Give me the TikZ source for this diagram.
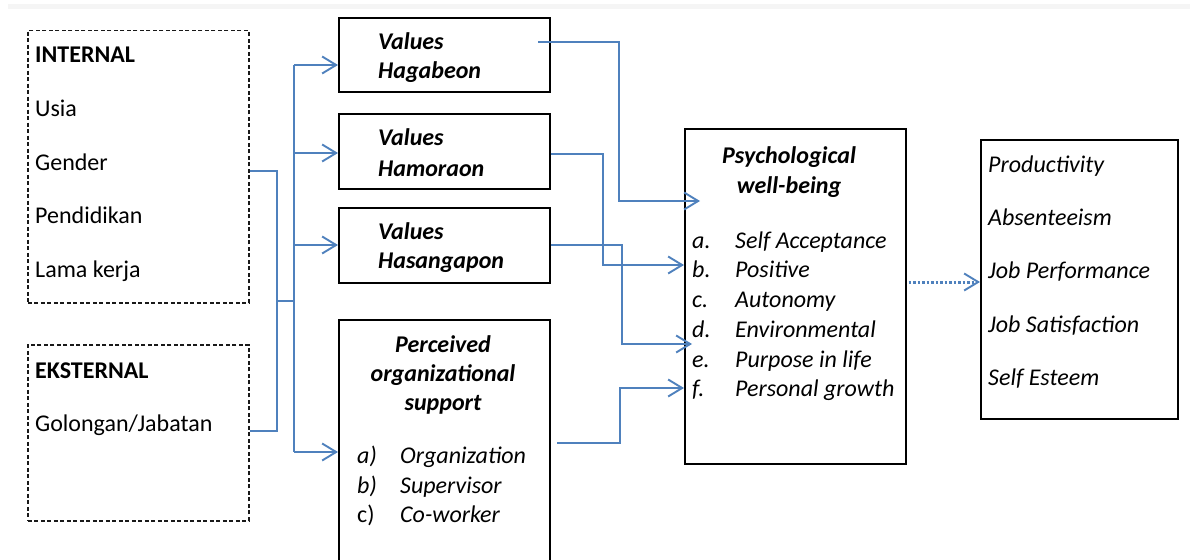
\documentclass[tikz,border=0pt]{standalone}
\usepackage{fontspec}
\setmainfont{Carlito}
\usetikzlibrary{arrows.meta}
\definecolor{lnblue}{HTML}{4F81BD}
\begin{document}
\begin{tikzpicture}[x=1pt,y=-1pt,
  box/.style={draw=black,line width=1.7pt,inner sep=0pt},
  dbox/.style={draw=black!90,line width=1.5pt,dash pattern=on 4pt off 2.5pt,inner sep=0pt},
  txt/.style={anchor=base west,inner sep=0pt,font=\fontsize{24}{29}\selectfont},
  btxt/.style={txt,font=\fontsize{24}{29}\selectfont\bfseries},
  ittxt/.style={txt,font=\fontsize{24}{29}\selectfont\itshape},
  bitxt/.style={txt,font=\fontsize{24}{29}\selectfont\bfseries\itshape},
  ctxt/.style={anchor=base,inner sep=0pt,font=\fontsize{24}{29}\selectfont\bfseries\itshape},
  conn/.style={draw=lnblue,line width=2.1pt},
  arr/.style={conn,-{Straight Barb[length=14pt,width=17pt,line width=1.9pt]}}]
\useasboundingbox (0,0) rectangle (1190,559);
\clip (0,0) rectangle (1190,559);
\fill[black!4] (8,4) rectangle (1190,9);

% left dashed boxes
\node[dbox,anchor=north west,minimum width=221pt,minimum height=272pt] (int) at (27,30) {};
\node[dbox,anchor=north west,minimum width=221pt,minimum height=176pt] (ext) at (27,344) {};
\node[btxt] (intl) at (35,63) {INTERNAL};
\node[txt] (usia) at (35,117) {Usia};
\node[txt] (gen) at (35,170) {Gender};
\node[txt] (pend) at (35,223) {Pendidikan};
\node[txt] (lama) at (35,277) {Lama kerja};
\node[btxt] (extl) at (35,378) {EKSTERNAL};
\node[txt] (gol) at (35,431) {Golongan/Jabatan};

% values boxes
\node[box,anchor=north west,minimum width=211pt,minimum height=74pt] (hag) at (338,17) {};
\node[box,anchor=north west,minimum width=211pt,minimum height=75pt] (ham) at (338,113) {};
\node[box,anchor=north west,minimum width=211pt,minimum height=75pt] (has) at (338,207) {};
\node[bitxt] (v1) at (378,50) {Values};
\node[bitxt] (v1b) at (378,79) {Hagabeon};
\node[bitxt] (v2) at (378,146) {Values};
\node[bitxt] (v2b) at (378,176) {Hamoraon};
\node[bitxt] (v3) at (378,239) {Values};
\node[bitxt] (v3b) at (378,268) {Hasangapon};

% perceived organizational support
\node[box,anchor=north west,minimum width=211pt,minimum height=270pt] (pos) at (338,319) {};
\node[ctxt] (p1) at (443,352) {Perceived};
\node[ctxt] (p2) at (443,381) {organizational};
\node[ctxt] (p3) at (443,410) {support};
\node[ittxt] (pa) at (357,463) {a)};
\node[ittxt] (pat) at (400,463) {Organization};
\node[ittxt] (pb) at (357,493) {b)};
\node[ittxt] (pbt) at (400,493) {Supervisor};
\node[txt] (pc) at (357,522) {c)};
\node[ittxt] (pct) at (400,522) {Co-worker};

% psychological well-being
\node[box,anchor=north west,minimum width=221pt,minimum height=335pt] (pwb) at (684,128) {};
\node[ctxt] (w1) at (789,163) {Psychological};
\node[ctxt] (w2) at (789,193) {well-being};
\node[ittxt] (wa) at (692,248) {a.};
\node[ittxt] (wat) at (735,248) {Self Acceptance};
\node[ittxt] (wb) at (692,277) {b.};
\node[ittxt] (wbt) at (735,277) {Positive};
\node[ittxt] (wc) at (692,307) {c.};
\node[ittxt] (wct) at (735,307) {Autonomy};
\node[ittxt] (wd) at (692,337) {d.};
\node[ittxt] (wdt) at (735,337) {Environmental};
\node[ittxt] (we) at (692,367) {e.};
\node[ittxt] (wet) at (735,367) {Purpose in life};
\node[ittxt] (wf) at (692,396) {f.};
\node[ittxt] (wft) at (735,396) {Personal growth};

% outcomes
\node[box,anchor=north west,minimum width=197pt,minimum height=279pt] (out) at (980,139) {};
\node[ittxt] (o1) at (988,172) {Productivity};
\node[ittxt] (o2) at (988,225) {Absenteeism};
\node[ittxt] (o3) at (988,278) {Job Performance};
\node[ittxt] (o4) at (988,332) {Job Satisfaction};
\node[ittxt] (o5) at (988,385) {Self Esteem};

% connectors on the left
\coordinate (jx) at (277,301);
\coordinate (tM) at (294,301);
\coordinate (tA) at (294,65);
\coordinate (tB) at (294,153);
\coordinate (tC) at (294,245);
\coordinate (tD) at (294,452);
\draw[conn] ([yshift=-4pt]int.east) -| (jx);
\draw[conn] (ext.east |- gol.base) -| (jx);
\draw[conn] (jx) -- (tM);
\draw[conn] (tA) -- (tD);
\draw[arr] (tA) -- (tA -| hag.west);
\draw[arr] (tB) -- (tB -| ham.west);
\draw[arr] (tC) -- (tC -| has.west);
\draw[arr] (tD) -- (tD -| pos.west);

% connectors into psychological well-being
\coordinate (h1) at (538,42);
\coordinate (e1) at (700,201);
\draw[arr] (h1) -| (619,201) -- (e1);
\draw[arr] (ham.east |- 0,154) -| (603,265) -- (pwb.west |- 0,265);
\coordinate (e3) at (692,344);
\draw[arr] (has.east |- 0,245) -| (622,344) -- (e3);
\coordinate (s4) at (557,443);
\draw[arr] (s4) -| (620,388) -- (pwb.west |- 0,388);

% dotted
\draw[arr,dash pattern=on 2.5pt off 2pt,line width=3pt] ([xshift=2pt]pwb.east |- 0,282) -- (out.west |- 0,282);
\end{tikzpicture}
\end{document}
